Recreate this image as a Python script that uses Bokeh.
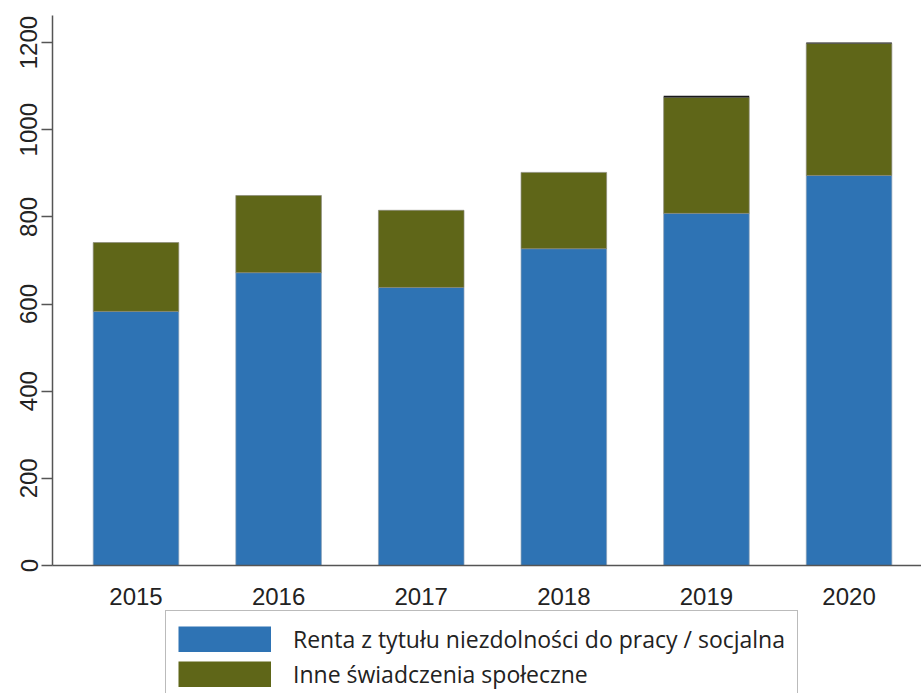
from bokeh.plotting import figure
from bokeh.models import Range1d, FixedTicker, ColumnDataSource, Legend, LegendItem
from bokeh.layouts import column
from bokeh.embed import file_html
from bokeh.resources import INLINE

years = [2015, 2016, 2017, 2018, 2019, 2020]
renta = [583, 672, 638, 727, 808, 895]
inne = [158, 177, 177, 175, 266, 303]
other = [0, 0, 0, 0, 4, 2]
year_labels = ["2015", "2016", "2017", "2018", "2019", "2020"]
y_ticks = [0, 200, 400, 600, 800, 1000, 1200]
series_names = ["Renta z tytułu niezdolności do pracy / socjalna", "Inne świadczenia społeczne"]

blue = "#2e73b4"
olive = "#5f6618"
dark = "#1a1a1a"

bottom2 = renta
top2 = [a + b for a, b in zip(renta, inne)]
top3 = [t + c for t, c in zip(top2, other)]

src = ColumnDataSource(dict(x=years, b1=[0] * 6, t1=renta, b2=bottom2, t2=top2, t3=top3))

p = figure(width=921, height=610, output_backend="svg", toolbar_location=None,
           x_range=Range1d(2014.4145, 2020.508), y_range=Range1d(0, 1262),
           min_border_left=52, min_border_top=15, min_border_bottom=45, min_border_right=0)

r1 = p.vbar(x="x", bottom="b1", top="t1", width=0.6, source=src, fill_color=blue,
            line_color="#8a9fb5", line_width=0.7)
r2 = p.vbar(x="x", bottom="b2", top="t2", width=0.6, source=src, fill_color=olive,
            line_color="#8a8a7a", line_width=0.7)
r3 = p.vbar(x="x", bottom="t2", top="t3", width=0.6, source=src, fill_color=dark,
            line_color=None)

p.outline_line_color = None
p.grid.visible = False
p.background_fill_color = "white"
p.border_fill_color = "white"

# x axis
p.xaxis.ticker = FixedTicker(ticks=years)
p.xaxis.major_label_overrides = {y: l for y, l in zip(years, year_labels)}
p.xaxis.major_tick_line_color = None
p.xaxis.minor_tick_line_color = None
p.xaxis.axis_line_color = "#555555"
p.xaxis.axis_line_width = 1.5
p.xaxis.major_label_text_font = "Liberation Sans"
p.xaxis.major_label_text_font_size = "24px"
p.xaxis.major_label_text_color = "#222222"
p.xaxis.major_label_standoff = 16

# y axis
p.yaxis.ticker = FixedTicker(ticks=y_ticks)
p.yaxis.minor_tick_line_color = None
p.yaxis.axis_line_color = "#555555"
p.yaxis.axis_line_width = 1.5
p.yaxis.major_tick_line_color = "#555555"
p.yaxis.major_tick_line_width = 1.5
p.yaxis.major_tick_out = 11
p.yaxis.major_tick_in = 0
p.yaxis.major_label_orientation = "vertical"
p.yaxis.major_label_text_font = "Liberation Sans"
p.yaxis.major_label_text_font_size = "24px"
p.yaxis.major_label_text_color = "#222222"
p.yaxis.major_label_standoff = 4

# legend figure (below the chart)
lf = figure(width=921, height=83, output_backend="svg", toolbar_location=None,
            x_range=Range1d(0, 1), y_range=Range1d(0, 1),
            x_axis_location=None, y_axis_location=None,
            min_border=0, min_border_left=0, min_border_right=0,
            min_border_top=0, min_border_bottom=0)
lf.grid.visible = False
lf.outline_line_color = None
lf.border_fill_color = "white"
lf.background_fill_color = "white"
lr1 = lf.line(x=[-5, -4], y=[-5, -5], line_color=blue, line_width=26, line_cap="butt")
lr2 = lf.line(x=[-5, -4], y=[-5, -5], line_color=olive, line_width=26, line_cap="butt")

legend = Legend(items=[LegendItem(label=series_names[0], renderers=[lr1]),
                       LegendItem(label=series_names[1], renderers=[lr2])],
                location=(113, -10), orientation="vertical")
legend.label_text_font = "Open Sans"
legend.label_text_font_size = "23px"
legend.label_text_color = "#222222"
legend.glyph_width = 93
legend.glyph_height = 26
legend.label_height = 26
legend.spacing = 3
legend.padding = 12
legend.margin = 0
legend.label_standoff = 22
legend.border_line_color = "#777777"
legend.border_line_width = 1.5
legend.background_fill_alpha = 1
lf.add_layout(legend, "center")

open("out.html", "w").write(file_html(column(p, lf, spacing=0), INLINE))
